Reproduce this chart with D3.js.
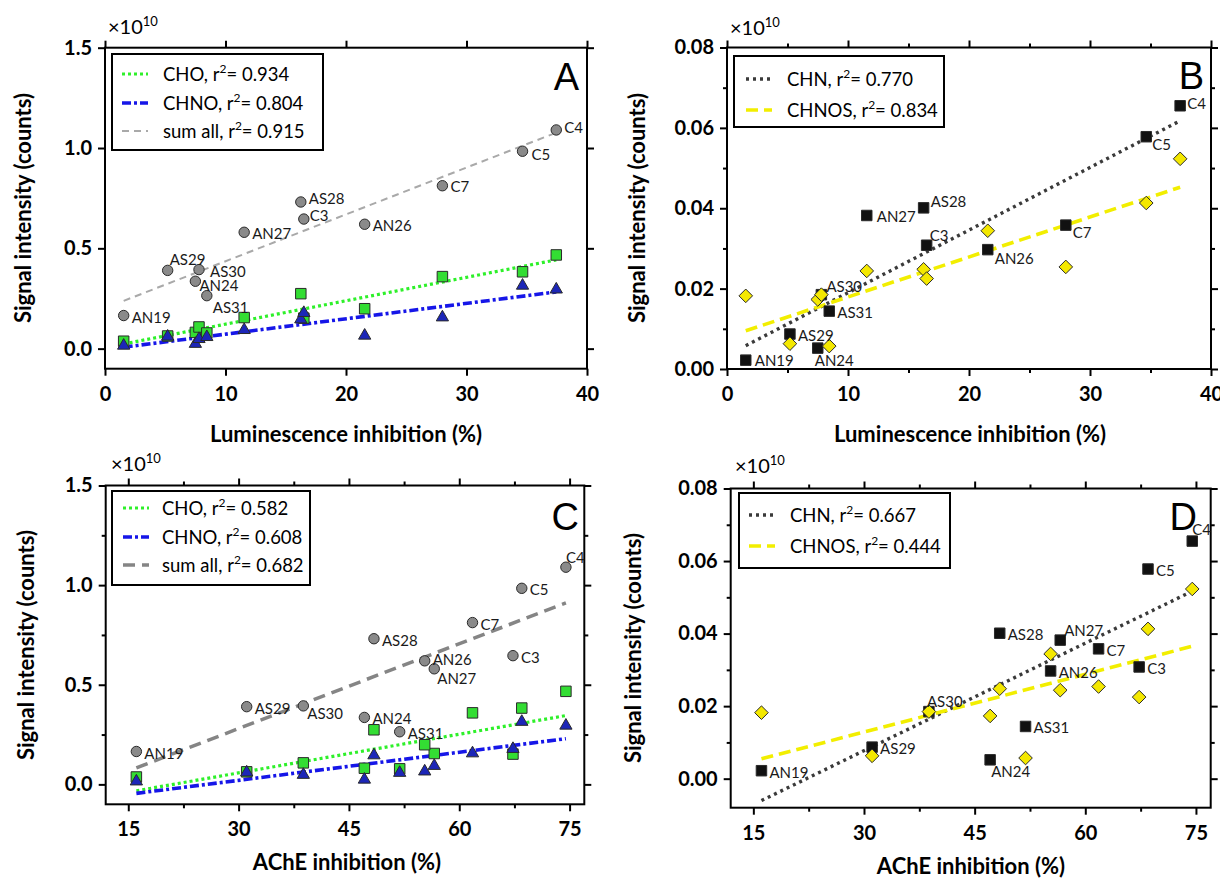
<!DOCTYPE html>
<html>
<head>
<meta charset="utf-8">
<script src="https://cdn.jsdelivr.net/npm/d3@7"></script>
<style>
  body { margin: 0; background: #fff; }
  text { font-family: Lato, "Open Sans", sans-serif; fill: #000; }
</style>
</head>
<body>
<div id="chart"></div>
<script>
// sample names (same order in every array below)
let samples = ["AN19", "AS29", "AN24", "AS30", "AS31", "AN27", "AS28", "C3", "AN26", "C7", "C5", "C4"];

// x values (%)
let lumInhibition = [1.55, 5.2, 7.5, 7.8, 8.45, 11.55, 16.25, 16.5, 21.55, 28.0, 34.65, 37.45];
let acheInhibition = [16.1, 31.1, 47.1, 38.8, 51.9, 56.6, 48.4, 67.3, 55.3, 61.8, 68.5, 74.5];

// signal intensity, x 1e10 counts
let sumAll = [0.165, 0.39, 0.336, 0.394, 0.264, 0.58, 0.731, 0.646, 0.62, 0.812, 0.984, 1.09];
let cho = [0.037, 0.063, 0.081, 0.108, 0.078, 0.155, 0.274, 0.152, 0.199, 0.359, 0.383, 0.467];
let chno = [0.015, 0.06, 0.024, 0.048, 0.058, 0.093, 0.146, 0.178, 0.065, 0.156, 0.314, 0.295];
let chn = [0.0022, 0.0087, 0.0052, 0.0185, 0.0144, 0.0382, 0.0401, 0.0308, 0.0297, 0.0358, 0.0578, 0.0655];
let chnos = [0.0182, 0.0063, 0.0173, 0.0185, 0.0057, 0.0244, 0.0248, 0.0225, 0.0344, 0.0254, 0.0413, 0.0523];

// r^2 values printed in the legends
let r2A = { cho: "0.934", chno: "0.804", sum: "0.915" };
let r2B = { chn: "0.770", chnos: "0.834" };
let r2C = { cho: "0.582", chno: "0.608", sum: "0.682" };
let r2D = { chn: "0.667", chnos: "0.444" };

// tick values
let ticksLargeY = [0, 0.5, 1.0, 1.5];
let ticksLargeYMinor = [0.25, 0.75, 1.25];
let ticksSmallY = [0, 0.02, 0.04, 0.06, 0.08];
let ticksSmallYMinor = [0.01, 0.03, 0.05, 0.07];
let ticksLum = [0, 10, 20, 30, 40];
let ticksLumMinor = [5, 15, 25, 35];
let ticksAche = [15, 30, 45, 60, 75];
let ticksAcheMinor = [22.5, 37.5, 52.5, 67.5];

let svg = d3.select("#chart")
    .append("svg")
    .attr("width", 1220)
    .attr("height", 882);

// styles for every series
let styles = {
    sumA: { stroke: "#a9a9a9", width: 2, dash: "7,5", marker: "circle", fill: "#8a8a8a" },
    sumC: { stroke: "#858585", width: 3.5, dash: "12,7", marker: "circle", fill: "#8a8a8a" },
    cho: { stroke: "#2ef02a", width: 3.2, dash: "3,3", marker: "square", fill: "#33dd33" },
    chno: { stroke: "#1616e8", width: 3.6, dash: "9,3,3,3", marker: "triangle", fill: "#1c26b8" },
    chn: { stroke: "#3a3a3a", width: 3.4, dash: "3,4", marker: "square", fill: "#111" },
    chnos: { stroke: "#f2ee00", width: 3.6, dash: "12,6", marker: "diamond", fill: "#f4e800" }
};

function fit(xs, ys) {
    let mx = d3.mean(xs), my = d3.mean(ys);
    let sxy = d3.sum(xs, (x, i) => (x - mx) * (ys[i] - my));
    let sxx = d3.sum(xs, x => (x - mx) * (x - mx));
    let b = sxy / sxx;
    return { a: my - b * mx, b: b };
}

function markerPath(type) {
    if (type === "circle") return d3.symbol(d3.symbolCircle, 85)();
    if (type === "square") return d3.symbol(d3.symbolSquare, 110)();
    if (type === "triangle") return d3.symbol(d3.symbolTriangle, 65)();
    return "M0,-6.8L6.8,0L0,6.8L-6.8,0Z";
}

// label offsets (dx, dy from the marker centre), default [8, 1]
let offA = { C4: [8, -3], C5: [9, 3], C7: [8, 0], AS28: [8, -4], C3: [6, -4], AS29: [2, -11], AS30: [11, 1], AN24: [4, 4], AS31: [6, 11] };
let offB = { C4: [7, -3], C5: [6, 7], AS28: [7, -7], AN27: [10, 1], C3: [3, -10], C7: [7, 7], AN26: [7, 8], AS30: [5, -9], AN24: [-3, 12], AN19: [9, 0] };
let offC = { C4: [0, -10], AN26: [8, -2], AN27: [3, 9], AS30: [4, 7], AN19: [8, 2] };
let offD = { C4: [0, -12], AN27: [4, -10], AS30: [-2, -11], AN24: [1, 11] };

let panels = [
    {
        letter: "A", xs: lumInhibition, xDomain: [0, 40], xRange: [105, 587],
        yDomain: [-0.1, 1.5], yRange: [368.7, 47.7],
        xTicks: ticksLum, xMinor: [], yTicks: ticksLargeY, yMinor: [], yFmt: ".1f",
        series: [
            { ys: sumAll, style: styles.sumA, name: "sum all", r2: r2A.sum },
            { ys: cho, style: styles.cho, name: "CHO", r2: r2A.cho },
            { ys: chno, style: styles.chno, name: "CHNO", r2: r2A.chno }
        ],
        legendOrder: [1, 2, 0], labelSeries: 0, offsets: offA,
        legend: { x: 112, y: 54, w: 211, h: 96, rows: [74, 103, 131], lx: 122, tx: 163 },
        letterPos: [579, 90], expPos: [108, 34],
        xTitle: "Luminescence inhibition (%)", xTitlePos: [346, 442], yTitlePos: [31, 208]
    },
    {
        letter: "B", xs: lumInhibition, xDomain: [0, 40], xRange: [727, 1211],
        yDomain: [0, 0.08], yRange: [369, 47.5],
        xTicks: ticksLum, xMinor: ticksLumMinor, yTicks: ticksSmallY, yMinor: ticksSmallYMinor, yFmt: ".2f",
        series: [
            { ys: chn, style: styles.chn, name: "CHN", r2: r2B.chn },
            { ys: chnos, style: styles.chnos, name: "CHNOS", r2: r2B.chnos }
        ],
        legendOrder: [0, 1], labelSeries: 0, offsets: offB,
        legend: { x: 734, y: 56, w: 210, h: 71, rows: [79, 110], lx: 746, tx: 787 },
        letterPos: [1204, 89], expPos: [730, 35],
        xTitle: "Luminescence inhibition (%)", xTitlePos: [970, 442], yTitlePos: [645, 208]
    },
    {
        letter: "C", xs: acheInhibition, xDomain: [11.93, 77.0], xRange: [105.7, 584.3],
        yDomain: [-0.1, 1.5], yRange: [804.3, 485.5],
        xTicks: ticksAche, xMinor: ticksAcheMinor, yTicks: ticksLargeY, yMinor: ticksLargeYMinor, yFmt: ".1f",
        series: [
            { ys: sumAll, style: styles.sumC, name: "sum all", r2: r2C.sum },
            { ys: cho, style: styles.cho, name: "CHO", r2: r2C.cho },
            { ys: chno, style: styles.chno, name: "CHNO", r2: r2C.chno }
        ],
        legendOrder: [1, 2, 0], labelSeries: 0, offsets: offC,
        legend: { x: 112, y: 491, w: 198, h: 94, rows: [508, 537, 565], lx: 123, tx: 162 },
        letterPos: [579, 530], expPos: [111, 471],
        xTitle: "AChE inhibition (%)", xTitlePos: [347, 870], yTitlePos: [34, 645]
    },
    {
        letter: "D", xs: acheInhibition, xDomain: [11.93, 77.0], xRange: [730.7, 1210.7],
        yDomain: [-0.008, 0.08], yRange: [807.7, 488.5],
        xTicks: ticksAche, xMinor: ticksAcheMinor, yTicks: ticksSmallY, yMinor: ticksSmallYMinor, yFmt: ".2f",
        series: [
            { ys: chn, style: styles.chn, name: "CHN", r2: r2D.chn },
            { ys: chnos, style: styles.chnos, name: "CHNOS", r2: r2D.chnos }
        ],
        legendOrder: [0, 1], labelSeries: 0, offsets: offD,
        legend: { x: 739, y: 493, w: 211, h: 75, rows: [515, 546], lx: 749, tx: 790 },
        letterPos: [1197, 530], expPos: [735, 473],
        xTitle: "AChE inhibition (%)", xTitlePos: [971, 874], yTitlePos: [641, 648]
    }
];

panels.forEach(function (p) {
    let x = d3.scaleLinear().domain(p.xDomain).range(p.xRange);
    let y = d3.scaleLinear().domain(p.yDomain).range(p.yRange);
    let g = svg.append("g");

    let bottom = p.yRange[0], top = p.yRange[1];
    let left = p.xRange[0], right = p.xRange[1];

    // axes: major + minor ticks on all four sides, labels on bottom/left only
    function addAxis(axis, transform, labels) {
        let a = g.append("g").attr("transform", transform).call(axis);
        a.select(".domain").remove();
        a.selectAll("line").attr("stroke", "#000").attr("stroke-width", 2);
        if (!labels) a.selectAll("text").remove();
        return a;
    }
    let xb = addAxis(d3.axisBottom(x).tickValues(p.xTicks).tickSize(7).tickPadding(11).tickFormat(d3.format("d")), `translate(0,${bottom})`, true);
    xb.selectAll("text").style("font-size", "20px").style("font-weight", "700");
    addAxis(d3.axisTop(x).tickValues(p.xTicks).tickSize(7), `translate(0,${top})`, false);
    let yl = addAxis(d3.axisLeft(y).tickValues(p.yTicks).tickSize(7).tickPadding(6).tickFormat(d3.format(p.yFmt)), `translate(${left},0)`, true);
    yl.selectAll("text").style("font-size", "20px").style("font-weight", "700");
    addAxis(d3.axisRight(y).tickValues(p.yTicks).tickSize(7), `translate(${right},0)`, false);
    if (p.xMinor.length) {
        addAxis(d3.axisBottom(x).tickValues(p.xMinor).tickSize(4), `translate(0,${bottom})`, false);
        addAxis(d3.axisTop(x).tickValues(p.xMinor).tickSize(4), `translate(0,${top})`, false);
    }
    if (p.yMinor.length) {
        addAxis(d3.axisLeft(y).tickValues(p.yMinor).tickSize(4), `translate(${left},0)`, false);
        addAxis(d3.axisRight(y).tickValues(p.yMinor).tickSize(4), `translate(${right},0)`, false);
    }

    // frame
    g.append("rect")
        .attr("x", left).attr("y", top)
        .attr("width", right - left).attr("height", bottom - top)
        .attr("fill", "none").attr("stroke", "#000").attr("stroke-width", 2);

    // regression lines
    p.series.forEach(function (s) {
        let f = fit(p.xs, s.ys);
        let ext = d3.extent(p.xs);
        g.append("path")
            .datum(ext)
            .attr("d", d3.line().x(d => x(d)).y(d => y(f.a + f.b * d)))
            .attr("fill", "none")
            .attr("stroke", s.style.stroke)
            .attr("stroke-width", s.style.width)
            .attr("stroke-dasharray", s.style.dash);
    });

    // markers
    p.series.forEach(function (s) {
        g.selectAll(null)
            .data(p.xs.map((v, i) => [v, s.ys[i]]))
            .enter()
            .append("path")
            .attr("d", markerPath(s.style.marker))
            .attr("transform", d => `translate(${x(d[0])},${y(d[1])})`)
            .attr("fill", s.style.fill)
            .attr("stroke", "#2a2a2a")
            .attr("stroke-width", 1);
    });

    // sample labels
    let ls = p.series[p.labelSeries];
    g.selectAll(null)
        .data(samples)
        .enter()
        .append("text")
        .attr("x", (d, i) => x(p.xs[i]) + (p.offsets[d] || [8, 1])[0])
        .attr("y", (d, i) => y(ls.ys[i]) + (p.offsets[d] || [8, 1])[1])
        .attr("dominant-baseline", "central")
        .style("font-size", "15px")
        .style("fill", "#1a1a1a")
        .text(d => d);

    // legend
    let L = p.legend;
    g.append("rect")
        .attr("x", L.x).attr("y", L.y).attr("width", L.w).attr("height", L.h)
        .attr("fill", "#fff").attr("stroke", "#000").attr("stroke-width", 2);
    p.legendOrder.forEach(function (si, k) {
        let s = p.series[si];
        let ry = L.rows[k];
        g.append("line")
            .attr("x1", L.lx).attr("x2", L.lx + 26)
            .attr("y1", ry).attr("y2", ry)
            .attr("stroke", s.style.stroke)
            .attr("stroke-width", s.style.width)
            .attr("stroke-dasharray", s.style.dash);
        let t = g.append("text")
            .attr("x", L.tx).attr("y", ry + 6.5)
            .style("font-size", "18.5px");
        t.append("tspan").text(s.name + ", r");
        t.append("tspan").attr("dy", -8).style("font-size", "12px").text("2");
        t.append("tspan").attr("dy", 8).text("= " + s.r2);
    });

    // panel letter
    g.append("text")
        .attr("x", p.letterPos[0]).attr("y", p.letterPos[1])
        .attr("text-anchor", "end")
        .style("font-family", "'Liberation Sans', Arial, sans-serif")
        .style("font-size", "38px")
        .text(p.letter);

    // x10^10 multiplier
    let e = g.append("text")
        .attr("x", p.expPos[0]).attr("y", p.expPos[1])
        .style("font-size", "20px");
    e.append("tspan").text("\u00d710");
    e.append("tspan").attr("dy", -8).style("font-size", "13px").text("10");

    // axis titles
    g.append("text")
        .attr("x", p.xTitlePos[0]).attr("y", p.xTitlePos[1])
        .attr("text-anchor", "middle")
        .style("font-size", "22px").style("font-weight", "700")
        .text(p.xTitle);
    g.append("text")
        .attr("transform", `translate(${p.yTitlePos[0]},${p.yTitlePos[1]}) rotate(-90)`)
        .attr("text-anchor", "middle")
        .style("font-size", "22px").style("font-weight", "700")
        .text("Signal intensity (counts)");
});
</script>
</body>
</html>
